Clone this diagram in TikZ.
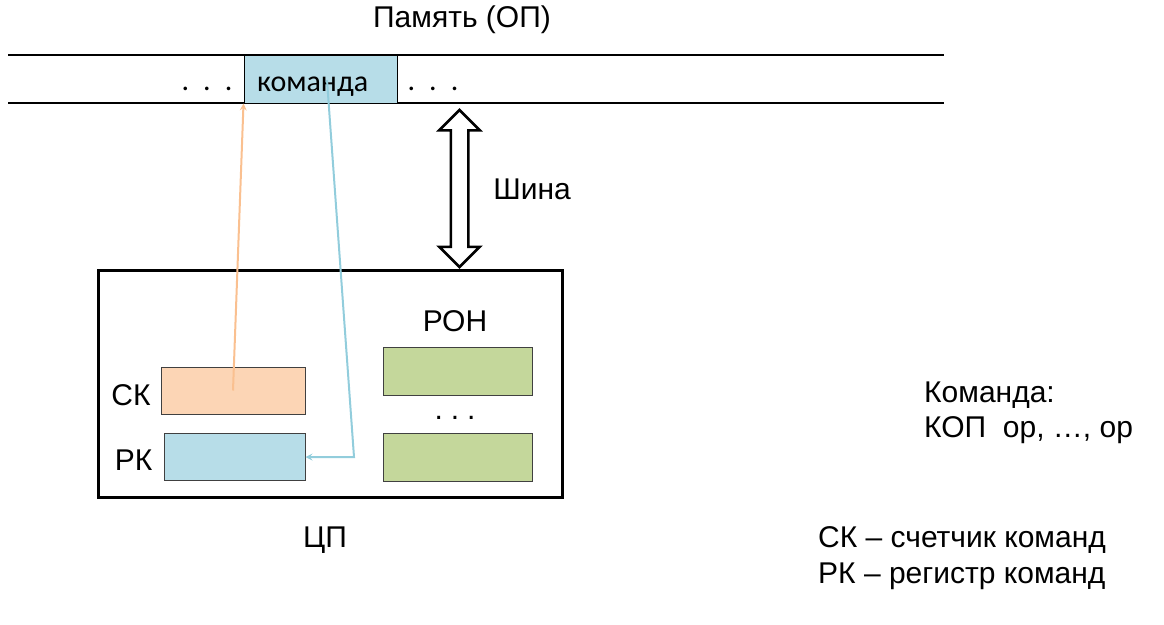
\documentclass[tikz,border=0pt]{standalone}
\usepackage{fontspec}
\setmainfont{Liberation Sans}
\newfontfamily\cellfont{Carlito}
\usetikzlibrary{shapes.geometric, shapes.arrows, arrows}
\definecolor{cellblue}{HTML}{B7DDE8}
\definecolor{skpeach}{HTML}{FCD5B5}
\definecolor{rongreen}{HTML}{C4D79B}
\definecolor{orangeline}{HTML}{FAC090}
\definecolor{blueline}{HTML}{92CDDC}
\definecolor{edgegray}{HTML}{404040}
\tikzstyle{txt} = [font=\fontsize{30}{36}\selectfont, inner sep=0pt, anchor=base]
\tikzstyle{celltxt} = [font=\cellfont\fontsize{30}{36}\selectfont, inner sep=0pt, anchor=base]
\tikzstyle{cell} = [rectangle, draw=black, line width=1pt, fill=cellblue, minimum width=153pt, minimum height=48pt, text width=127pt, inner xsep=13pt, align=left, text height=25pt, text depth=0pt]
\tikzstyle{reg} = [rectangle, draw=edgegray, line width=1pt, minimum height=47pt]
\tikzstyle{cpu} = [rectangle, draw=black, line width=3pt, minimum width=464pt, minimum height=227pt]
\tikzstyle{bus} = [double arrow, draw=black, line width=2.5pt, fill=white, rotate=90, minimum height=157pt, inner xsep=0pt, inner ysep=7.5pt, double arrow head extend=11.5pt, double arrow head indent=0pt]
\tikzstyle{arrow} = [line width=2pt, ->, >=stealth]

\begin{document}
\begin{tikzpicture}[x=1pt, y=-1pt]
    \useasboundingbox (0,0) rectangle (1164,624);

    % Memory
    \draw [line width=1.2pt] (8,55) -- (944,55);
    \draw [line width=1.2pt] (8,103) -- (944,103);
    \node (memtitle) [txt] at (462,27) {Память (ОП)};
    \node (cell) [cell, celltxt, anchor=center] at (320.5,79) {команда};
    \node (dotsl) [celltxt] at (207,90) {.\hspace{14pt}.\hspace{14pt}.};
    \node (dotsr) [celltxt] at (433,90) {.\hspace{14pt}.\hspace{14pt}.};

    % Bus
    \node (bus) [bus] at (459.5,188.5) {};
    \node (busname) [txt] at (532,199) {Шина};

    % CPU
    \node (cpu) [cpu] at (330,383.5) {};
    \node (cpuname) [txt] at (325,547) {ЦП};
    \node (sk) [reg, fill=skpeach, minimum width=144pt] at (233,390.5) {};
    \node (rk) [reg, fill=cellblue, minimum width=141pt] at (234.5,457) {};
    \node (skname) [txt] at (131,405) {СК};
    \node (rkname) [txt] at (133.5,470) {РК};
    \node (ronname) [txt] at (455,331) {РОН};
    \node (ron1) [reg, fill=rongreen, minimum width=149pt, minimum height=48pt] at (457.5,371) {};
    \node (ron2) [reg, fill=rongreen, minimum width=149pt, minimum height=48pt] at (457.5,457) {};
    \node (rondots) [txt] at (455,419) {.\hspace{8pt}.\hspace{8pt}.};

    % Notes
    \node (cmd) [txt, anchor=base west] at (924,402) {Команда:};
    \node (cmdfmt) [txt, anchor=base west] at (924,437) {КОП~ op, …, op};
    \node (legsk) [txt, anchor=base west] at (818,547) {СК – счетчик команд};
    \node (legrk) [txt, anchor=base west] at (818,583) {РК – регистр команд};

    % Arrows
    \coordinate (tap) at (327,80);
    \coordinate (bend) at (354,457);
    \draw [arrow, orangeline] (sk.center) -- (cell.south west);
    \draw [arrow, blueline] (tap) -- (bend) -- (rk.east);

\end{tikzpicture}
\end{document}
